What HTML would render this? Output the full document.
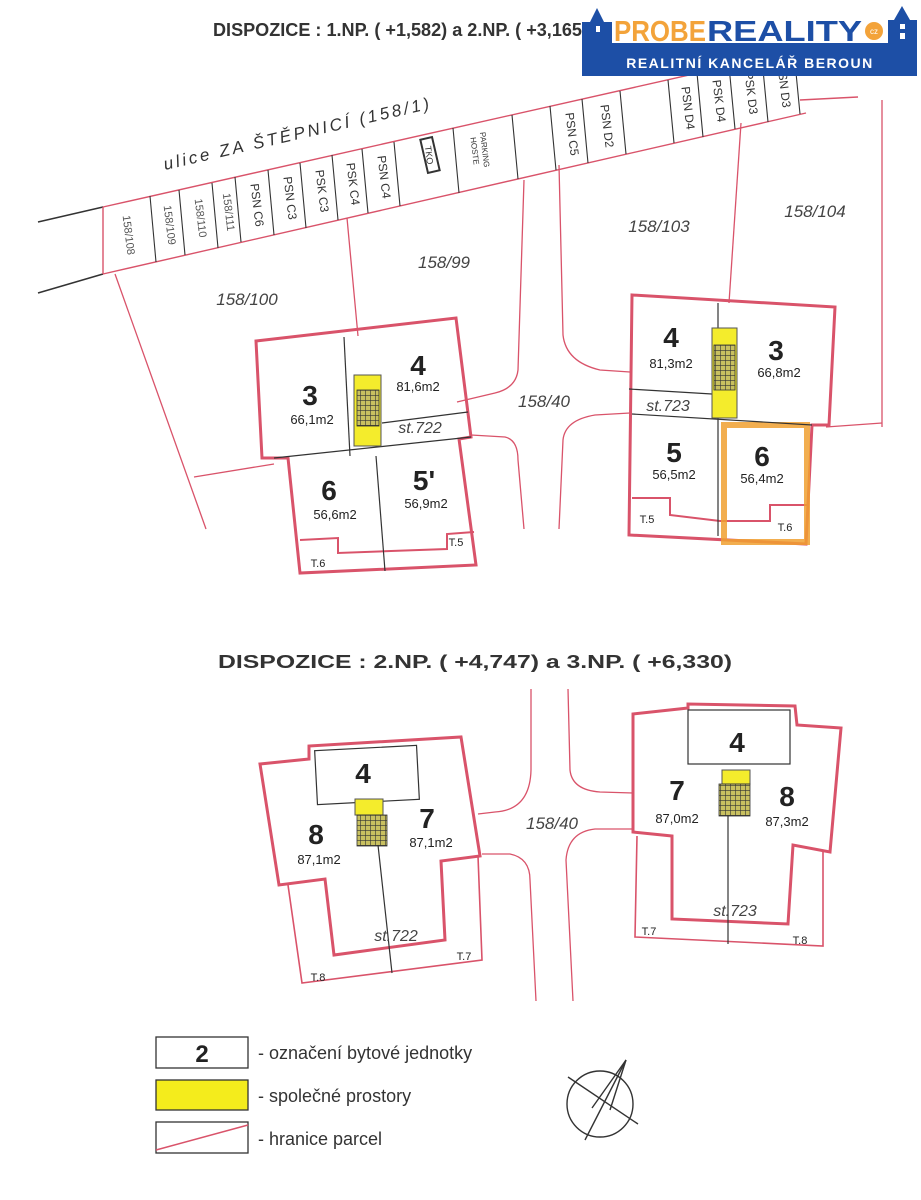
<!DOCTYPE html>
<html><head><meta charset="utf-8"><style>
html,body{margin:0;padding:0;background:#fff;}
svg{display:block;}
text{font-family:"Liberation Sans",sans-serif;}
</style></head><body>
<svg width="921" height="1200" viewBox="0 0 921 1200" xmlns="http://www.w3.org/2000/svg">
<defs>
<pattern id="grid" width="5" height="5" patternUnits="userSpaceOnUse">
<rect width="5" height="5" fill="#c8c060"/>
<path d="M0 0 H5 M0 0 V5" stroke="#333" stroke-width="1.2"/>
</pattern>
</defs>
<rect width="921" height="1200" fill="#fff"/>

<!-- Title 1 -->
<text x="213" y="36" font-size="18" font-weight="bold" fill="#333" textLength="375" lengthAdjust="spacingAndGlyphs">DISPOZICE : 1.NP. ( +1,582)  a  2.NP. ( +3,165)</text>

<!-- Street black lines -->
<g stroke="#333" stroke-width="1.6" fill="none">
<line x1="38" y1="222" x2="103" y2="207"/>
<line x1="38" y1="293" x2="103" y2="274"/>
</g>
<g stroke="#d9536a" stroke-width="1.4" fill="none">
<line x1="103" y1="207" x2="818" y2="46"/>
<line x1="103" y1="274" x2="806" y2="113"/>
<line x1="103" y1="274" x2="103" y2="207"/>
<line x1="800" y1="100" x2="858" y2="97"/>
</g>
<g stroke="#333" stroke-width="1.1">
<line x1="156" y1="262" x2="150" y2="196"/>
<line x1="185" y1="255" x2="179" y2="190"/>
<line x1="218" y1="248" x2="212" y2="183"/>
<line x1="241" y1="242" x2="235" y2="177"/>
<line x1="274" y1="235" x2="268" y2="170"/>
<line x1="306" y1="228" x2="300" y2="163"/>
<line x1="338" y1="220" x2="332" y2="155"/>
<line x1="368" y1="213" x2="362" y2="149"/>
<line x1="400" y1="206" x2="394" y2="142"/>
<line x1="459" y1="193" x2="453" y2="128"/>
<line x1="518" y1="179" x2="512" y2="115"/>
<line x1="556" y1="170" x2="550" y2="106"/>
<line x1="588" y1="163" x2="582" y2="99"/>
<line x1="626" y1="154" x2="620" y2="91"/>
<line x1="674" y1="143" x2="668" y2="80"/>
<line x1="703" y1="137" x2="697" y2="73"/>
<line x1="735" y1="129" x2="729" y2="66"/>
<line x1="768" y1="122" x2="762" y2="59"/>
<line x1="800" y1="114" x2="794" y2="52"/>
</g>
<rect x="424" y="138" width="12" height="34" fill="none" stroke="#333" stroke-width="2" transform="rotate(-13 430 155)"/>
<g font-size="11" fill="#555" text-anchor="middle">
<text transform="translate(129,235) rotate(83)" dy="4">158/108</text>
<text transform="translate(170,225) rotate(83)" dy="4">158/109</text>
<text transform="translate(201,218) rotate(83)" dy="4">158/110</text>
<text transform="translate(229,212) rotate(83)" dy="4">158/111</text>
</g>
<g font-size="12" fill="#333" text-anchor="middle">
<text transform="translate(257,205) rotate(83)" dy="4">PSN C6</text>
<text transform="translate(290,198) rotate(83)" dy="4">PSN C3</text>
<text transform="translate(322,191) rotate(83)" dy="4">PSK C3</text>
<text transform="translate(353,184) rotate(83)" dy="4">PSK C4</text>
<text transform="translate(384,177) rotate(83)" dy="4">PSN C4</text>
<text transform="translate(430,155) rotate(83)" dy="4" font-size="9">TKO</text>
<text transform="translate(482,150) rotate(83)" dy="0" font-size="8">PARKING</text>
<text transform="translate(482,150) rotate(83)" dy="10" font-size="8">HOSTE</text>
<text transform="translate(572,134) rotate(83)" dy="4">PSN C5</text>
<text transform="translate(607,126) rotate(83)" dy="4">PSN D2</text>
<text transform="translate(688,108) rotate(83)" dy="4">PSN D4</text>
<text transform="translate(719,101) rotate(83)" dy="4">PSK D4</text>
<text transform="translate(751,93) rotate(83)" dy="4">PSK D3</text>
<text transform="translate(784,86) rotate(83)" dy="4">PSN D3</text>
</g>
<text transform="translate(165,170) rotate(-13)" font-size="17" font-style="italic" fill="#333" textLength="272" lengthAdjust="spacing">ulice  ZA  ŠTĚPNICÍ  (158/1)</text>

<!-- Parcel lines upper -->
<g stroke="#d9536a" stroke-width="1.3" fill="none">
<line x1="115" y1="274" x2="206" y2="529"/>
<line x1="347" y1="218" x2="358" y2="336"/>
<path d="M524 180 L518 370 Q516 388 495 393 L457 402"/>
<path d="M559 165 L563 335 Q566 362 600 370 L630 372"/>
<line x1="741" y1="123" x2="729" y2="303"/>
<line x1="882" y1="100" x2="882" y2="427"/>
<path d="M471 435 L505 437 Q518 440 518 460 L524 529"/>
<path d="M559 529 L563 440 Q565 420 595 415 L630 413"/>
<line x1="826" y1="427" x2="882" y2="423"/>
<line x1="194" y1="477" x2="274" y2="464"/>
</g>
<g font-size="17" font-style="italic" fill="#444" text-anchor="middle">
<text x="247" y="305">158/100</text>
<text x="444" y="268">158/99</text>
<text x="659" y="232">158/103</text>
<text x="815" y="217">158/104</text>
<text x="544" y="407">158/40</text>
</g>

<!-- Left building 1NP -->
<g stroke="#d9536a" stroke-width="3" fill="none">
<path d="M256 341 L456 318 L471 437 L459 439 L476 565 L300 573 L288 458 L262 458 Z"/>
<path d="M300 540 L338 538 L338 553 L391 551 L447 549 L447 534 L474 532" stroke-width="2"/>
</g>
<g stroke="#333" stroke-width="1.2" fill="none">
<line x1="344" y1="337" x2="350" y2="456"/>
<line x1="376" y1="456" x2="385" y2="571"/>
<line x1="274" y1="458" x2="471" y2="437"/>
<line x1="382" y1="423" x2="468" y2="412"/>
</g>
<rect x="354" y="375" width="27" height="71" fill="#f4ec2c" stroke="#555" stroke-width="1"/>
<rect x="357" y="390" width="22" height="36" fill="url(#grid)" stroke="#333" stroke-width="0.8"/>
<g text-anchor="middle" fill="#222">
<text x="310" y="405" font-size="28" font-weight="bold">3</text>
<text x="312" y="424" font-size="13">66,1m2</text>
<text x="418" y="375" font-size="28" font-weight="bold">4</text>
<text x="418" y="391" font-size="13">81,6m2</text>
<text x="420" y="433" font-size="16" font-style="italic" fill="#444">st.722</text>
<text x="329" y="500" font-size="28" font-weight="bold">6</text>
<text x="335" y="519" font-size="13">56,6m2</text>
<text x="424" y="490" font-size="28" font-weight="bold">5'</text>
<text x="426" y="508" font-size="13">56,9m2</text>
<text x="318" y="567" font-size="11">T.6</text>
<text x="456" y="546" font-size="11">T.5</text>
</g>

<!-- Right building 1NP -->
<g stroke="#d9536a" stroke-width="3" fill="none">
<path d="M632 295 L835 307 L829 425 L812 425 L806 544 L629 535 Z"/>
<path d="M632 498 L670 498 L670 515 L720 521 L770 521 L770 505 L808 505" stroke-width="2"/>
</g>
<rect x="724" y="425" width="83" height="117" fill="none" stroke="#f0a030" stroke-width="6" opacity="0.85"/>
<g stroke="#333" stroke-width="1.2" fill="none">
<line x1="718" y1="303" x2="718" y2="536"/>
<line x1="629" y1="389" x2="712" y2="394"/>
<line x1="632" y1="414" x2="812" y2="425"/>
</g>
<rect x="712" y="328" width="25" height="90" fill="#f4ec2c" stroke="#555" stroke-width="1"/>
<rect x="714" y="345" width="21" height="45" fill="url(#grid)" stroke="#333" stroke-width="0.8"/>
<g text-anchor="middle" fill="#222">
<text x="671" y="347" font-size="28" font-weight="bold">4</text>
<text x="671" y="368" font-size="13">81,3m2</text>
<text x="776" y="360" font-size="28" font-weight="bold">3</text>
<text x="779" y="377" font-size="13">66,8m2</text>
<text x="668" y="411" font-size="16" font-style="italic" fill="#444">st.723</text>
<text x="674" y="462" font-size="28" font-weight="bold">5</text>
<text x="674" y="479" font-size="13">56,5m2</text>
<text x="762" y="466" font-size="28" font-weight="bold">6</text>
<text x="762" y="483" font-size="13">56,4m2</text>
<text x="647" y="523" font-size="11">T.5</text>
<text x="785" y="531" font-size="11">T.6</text>
</g>

<!-- Title 2 -->
<text x="218" y="668" font-size="18" font-weight="bold" fill="#333" textLength="514" lengthAdjust="spacingAndGlyphs">DISPOZICE : 2.NP. ( +4,747)  a  3.NP. ( +6,330)</text>

<!-- Roads lower -->
<g stroke="#d9536a" stroke-width="1.3" fill="none">
<path d="M531 689 L531 770 Q530 810 495 812 L478 814"/>
<path d="M482 854 L510 854 Q530 858 530 880 L536 1001"/>
<path d="M568 689 L570 770 Q572 790 600 792 L633 793"/>
<path d="M633 829 L595 829 Q568 832 566 860 L573 1001"/>
</g>
<text x="552" y="829" font-size="17" font-style="italic" fill="#444" text-anchor="middle">158/40</text>

<!-- Left building 2NP -->
<g stroke="#d9536a" stroke-width="3" fill="none">
<path d="M260 764 L309 759 L309 746 L461 737 L480 856 L441 861 L445 940 L334 955 L325 879 L279 885 Z"/>
</g>
<path d="M288 885 L302 983 L482 960 L478 856" stroke="#d9536a" stroke-width="1.6" fill="none"/>
<rect x="316" y="748" width="102" height="54" fill="#fff" stroke="#333" stroke-width="1.2" transform="rotate(-3 367 775)"/>
<rect x="355" y="799" width="28" height="16" fill="#f4ec2c" stroke="#555" stroke-width="1"/>
<rect x="357" y="815" width="30" height="31" fill="url(#grid)" stroke="#333" stroke-width="0.8"/>
<line x1="378" y1="845" x2="392" y2="973" stroke="#333" stroke-width="1.2"/>
<g text-anchor="middle" fill="#222">
<text x="363" y="783" font-size="28" font-weight="bold">4</text>
<text x="316" y="844" font-size="28" font-weight="bold">8</text>
<text x="319" y="864" font-size="13">87,1m2</text>
<text x="427" y="828" font-size="28" font-weight="bold">7</text>
<text x="431" y="847" font-size="13">87,1m2</text>
<text x="396" y="941" font-size="16" font-style="italic" fill="#444">st.722</text>
<text x="464" y="960" font-size="11">T.7</text>
<text x="318" y="981" font-size="11">T.8</text>
</g>

<!-- Right building 2NP -->
<g stroke="#d9536a" stroke-width="3" fill="none">
<path d="M633 714 L688 708 L688 704 L795 706 L797 725 L841 728 L830 852 L793 845 L788 924 L672 919 L672 836 L633 832 Z"/>
</g>
<path d="M637 836 L635 937 L823 946 L823 852" stroke="#d9536a" stroke-width="1.6" fill="none"/>
<rect x="688" y="710" width="102" height="54" fill="#fff" stroke="#333" stroke-width="1.2"/>
<rect x="722" y="770" width="28" height="14" fill="#f4ec2c" stroke="#555" stroke-width="1"/>
<rect x="719" y="784" width="31" height="32" fill="url(#grid)" stroke="#333" stroke-width="0.8"/>
<line x1="728" y1="816" x2="728" y2="944" stroke="#333" stroke-width="1.2"/>
<g text-anchor="middle" fill="#222">
<text x="737" y="752" font-size="28" font-weight="bold">4</text>
<text x="677" y="800" font-size="28" font-weight="bold">7</text>
<text x="677" y="823" font-size="13">87,0m2</text>
<text x="787" y="806" font-size="28" font-weight="bold">8</text>
<text x="787" y="826" font-size="13">87,3m2</text>
<text x="735" y="916" font-size="16" font-style="italic" fill="#444">st.723</text>
<text x="649" y="935" font-size="11">T.7</text>
<text x="800" y="944" font-size="11">T.8</text>
</g>

<!-- Legend -->
<rect x="156" y="1037" width="92" height="31" fill="#fff" stroke="#333" stroke-width="1.3"/>
<text x="202" y="1062" font-size="24" font-weight="bold" text-anchor="middle" fill="#222">2</text>
<rect x="156" y="1080" width="92" height="30" fill="#f4ec1c" stroke="#333" stroke-width="1.3"/>
<rect x="156" y="1122" width="92" height="31" fill="#fff" stroke="#333" stroke-width="1.3"/>
<line x1="156" y1="1150" x2="248" y2="1125" stroke="#d9536a" stroke-width="1.5"/>
<g font-size="18" fill="#333">
<text x="258" y="1059">- označení bytové jednotky</text>
<text x="258" y="1102">- společné prostory</text>
<text x="258" y="1145">- hranice parcel</text>
</g>
<g stroke="#333" stroke-width="1.4" fill="none">
<circle cx="600" cy="1104" r="33"/>
<line x1="568" y1="1077" x2="638" y2="1124"/>
<line x1="585" y1="1140" x2="626" y2="1060"/>
<line x1="592" y1="1108" x2="626" y2="1060"/>
<line x1="610" y1="1110" x2="626" y2="1060"/>
</g>

<!-- Logo -->
<g fill="#1d4fa6">
<rect x="582" y="43" width="335" height="33"/>
<path d="M582 76 L582 22 L590 22 L597 8 L604 22 L612 22 L612 76 Z"/>
<path d="M888 76 L888 20 L894 20 L902 6 L910 20 L917 20 L917 76 Z"/>
</g>
<rect x="596" y="26" width="4" height="6" fill="#fff"/>
<rect x="900" y="24" width="5" height="5" fill="#fff"/>
<rect x="900" y="33" width="5" height="6" fill="#fff"/>
<text x="614" y="41" font-size="29" font-weight="bold" fill="#f3a33a" textLength="92" lengthAdjust="spacingAndGlyphs">PROBE</text>
<text x="707" y="41" font-size="29" font-weight="bold" fill="#1d4fa6" textLength="155" lengthAdjust="spacingAndGlyphs">REALITY</text>
<circle cx="874" cy="31" r="9" fill="#f3a33a"/>
<text x="874" y="34" font-size="8" fill="#fff" text-anchor="middle">cz</text>
<text x="750" y="68" font-size="14" font-weight="bold" fill="#fff" text-anchor="middle" letter-spacing="1.5">REALITNÍ KANCELÁŘ BEROUN</text>
</svg>
</body></html>
